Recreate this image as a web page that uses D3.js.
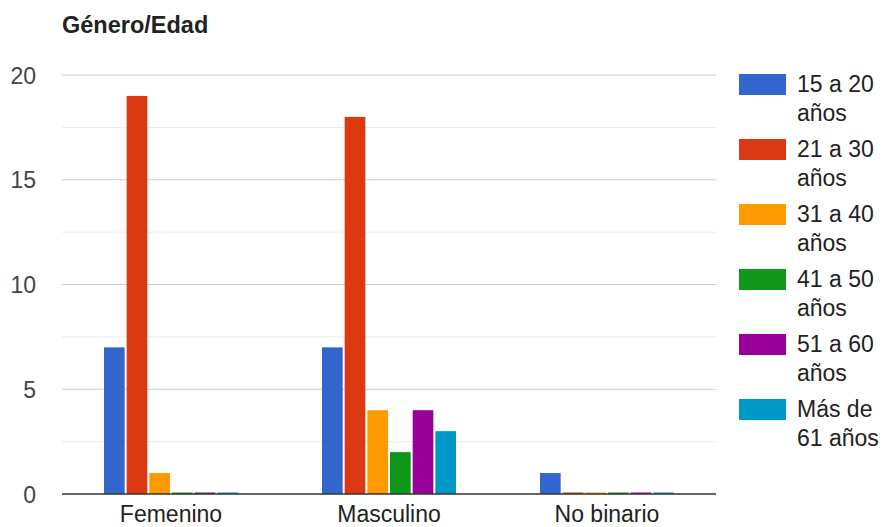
<!DOCTYPE html>
<html>
<head>
<meta charset="utf-8">
<script src="https://cdn.jsdelivr.net/npm/d3@7"></script>
<style>
  html, body { margin: 0; padding: 0; background: #fff; }
  svg { display: block; font-family: "Liberation Sans", Arial, sans-serif; }
</style>
</head>
<body>
<svg id="chart" width="882" height="527"></svg>
<script>
const title = "Género/Edad";
const categories = ["Femenino", "Masculino", "No binario"];
const seriesNames = ["15 a 20 años", "21 a 30 años", "31 a 40 años", "41 a 50 años", "51 a 60 años", "Más de 61 años"];
const colors = ["#3366cc", "#dc3912", "#ff9900", "#109618", "#990099", "#0099c6"];
const s15a20 = [7, 7, 1];
const s21a30 = [19, 18, 0];
const s31a40 = [1, 4, 0];
const s41a50 = [0, 2, 0];
const s51a60 = [0, 4, 0];
const sMas61 = [0, 3, 0];
const seriesValues = [s15a20, s21a30, s31a40, s41a50, s51a60, sMas61];
const yMajorTicks = [0, 5, 10, 15, 20];
const yMinorTicks = [2.5, 7.5, 12.5, 17.5];

const svg = d3.select("#chart");
const plot = { left: 62, right: 716, top: 75, bottom: 494 };

const y = d3.scaleLinear().domain([0, 20]).range([plot.bottom, plot.top]);
const x0 = d3.scaleBand().domain(categories).range([plot.left, plot.right])
  .paddingInner(0.376).paddingOuter(0.188);
const x1 = d3.scaleBand().domain(seriesNames).range([0, x0.bandwidth()]);

// title
svg.append("text").attr("x", 62).attr("y", 33)
  .attr("font-size", 23.5).attr("font-weight", "bold").attr("fill", "#222")
  .text(title);

// gridlines
svg.append("g").selectAll("line").data(yMinorTicks).join("line")
  .attr("x1", plot.left).attr("x2", plot.right)
  .attr("y1", d => y(d)).attr("y2", d => y(d))
  .attr("stroke", "#ebebeb").attr("stroke-width", 1);
svg.append("g").selectAll("line").data(yMajorTicks.filter(d => d !== 0)).join("line")
  .attr("x1", plot.left).attr("x2", plot.right)
  .attr("y1", d => y(d)).attr("y2", d => y(d))
  .attr("stroke", "#cccccc").attr("stroke-width", 1);

// y labels
const yAxis = d3.axisLeft(y).tickValues(yMajorTicks).tickSize(0).tickPadding(0);
const gy = svg.append("g").attr("transform", `translate(36,0)`).call(yAxis);
gy.select(".domain").remove();
gy.selectAll("text").attr("font-size", 23).attr("fill", "#444")
  .attr("font-family", "Liberation Sans, Arial, sans-serif").attr("dy", "0.35em");

// bars
const groups = svg.append("g").selectAll("g").data(categories).join("g")
  .attr("transform", d => `translate(${x0(d)},0)`);
groups.selectAll("rect")
  .data((c, ci) => seriesNames.map((s, si) => ({ s, v: seriesValues[si][ci], color: colors[si] })))
  .join("rect")
  .attr("x", d => x1(d.s) + 1)
  .attr("width", x1.bandwidth() - 2)
  .attr("y", d => Math.min(y(d.v), y(0) - 1.5))
  .attr("height", d => Math.max(1.5, y(0) - y(d.v)))
  .attr("fill", d => d.color);

// baseline
svg.append("line").attr("x1", plot.left).attr("x2", plot.right)
  .attr("y1", y(0)).attr("y2", y(0)).attr("stroke", "#333").attr("stroke-width", 1.5);

// x labels
const xAxis = d3.axisBottom(x0).tickSize(0).tickPadding(0);
const gx = svg.append("g").attr("transform", `translate(0,${y(0)})`).call(xAxis);
gx.select(".domain").remove();
gx.selectAll("text").attr("font-size", 23).attr("fill", "#222")
  .attr("font-family", "Liberation Sans, Arial, sans-serif").attr("dy", null).attr("y", 28);

// legend
const legend = svg.append("g").attr("transform", "translate(739,74)");
const items = legend.selectAll("g").data(seriesNames).join("g")
  .attr("transform", (d, i) => `translate(0,${i * 65})`);
items.append("rect").attr("width", 47).attr("height", 21).attr("fill", (d, i) => colors[i]);
items.each(function(d) {
  const g = d3.select(this);
  const t = g.append("text").attr("x", 58).attr("y", 18).attr("font-size", 23).attr("fill", "#222");
  const words = d.split(" ");
  let lines = [], cur = "";
  const maxW = 84;
  const tmp = g.append("text").attr("font-size", 23).attr("visibility", "hidden");
  words.forEach(w => {
    const trial = cur ? cur + " " + w : w;
    tmp.text(trial);
    if (tmp.node().getComputedTextLength() > maxW && cur) { lines.push(cur); cur = w; }
    else cur = trial;
  });
  lines.push(cur);
  tmp.remove();
  lines.forEach((l, i) => t.append("tspan").attr("x", 58).attr("dy", i === 0 ? 0 : 29).text(l));
});
</script>
</body>
</html>
